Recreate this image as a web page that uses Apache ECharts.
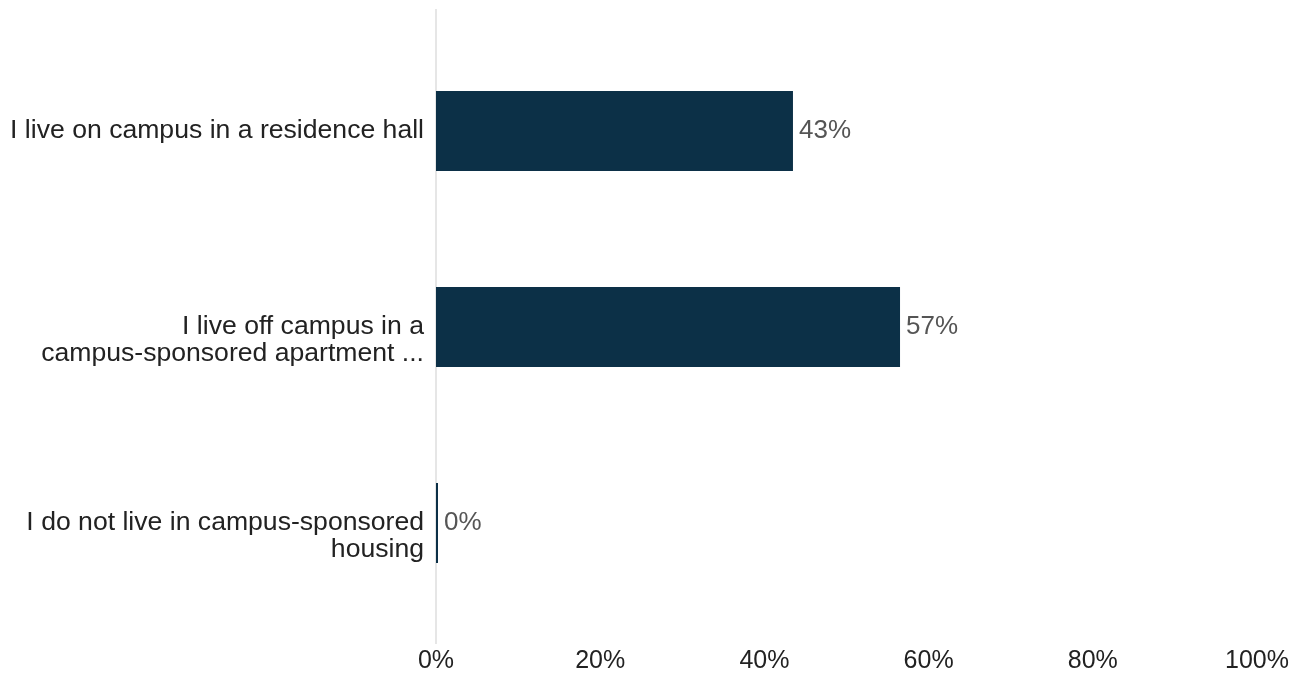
<!DOCTYPE html>
<html>
<head>
<meta charset="utf-8">
<script src="https://cdn.jsdelivr.net/npm/echarts@6/dist/echarts.min.js"></script>
<style>html,body{margin:0;padding:0;background:#fff}#c{width:1301px;height:676px}</style>
</head>
<body>
<div id="c"></div>
<script>
const categories = [
  "I live on campus in a residence hall",
  "I live off campus in a\ncampus-sponsored apartment ...",
  "I do not live in campus-sponsored\nhousing"
];
const values = [43.48, 56.52, 0];
const xTicks = [0, 20, 40, 60, 80, 100];

const FONT = 'Liberation Sans, Arial, Helvetica, sans-serif';
const chart = echarts.init(document.getElementById('c'), null, {renderer: 'canvas'});
chart.setOption({
  animation: false,
  grid: {left: 436, right: 44, top: 33, bottom: 55, containLabel: false},
  xAxis: {
    type: 'value', min: xTicks[0], max: xTicks[xTicks.length - 1], interval: 20,
    axisLine: {show: false}, axisTick: {show: false}, splitLine: {show: false},
    axisLabel: {formatter: '{value}%', fontFamily: FONT, fontSize: 25, color: '#222', margin: 28}
  },
  yAxis: {
    type: 'category', inverse: true, data: categories,
    axisLine: {show: false}, axisTick: {show: false},
    axisLabel: {
      fontFamily: FONT, fontSize: 26.6, color: '#222', margin: 12, lineHeight: 27, align: 'right',
      formatter: v => v.indexOf('\n') >= 0 ? ' \n' + v : v
    }
  },
  graphic: [{
    type: 'line', z: 0,
    shape: {x1: 436, y1: 9, x2: 436, y2: 644},
    style: {stroke: '#e6e6e6', lineWidth: 2}
  }],
  series: [{
    type: 'bar', data: values, barWidth: 80, barMinHeight: 2, z: 2,
    itemStyle: {color: '#0c3047'},
    label: {show: true, position: 'right', distance: 6,
      formatter: p => Math.round(p.value) + '%',
      fontFamily: FONT, fontSize: 26, color: '#555'}
  }]
});
</script>
</body>
</html>
